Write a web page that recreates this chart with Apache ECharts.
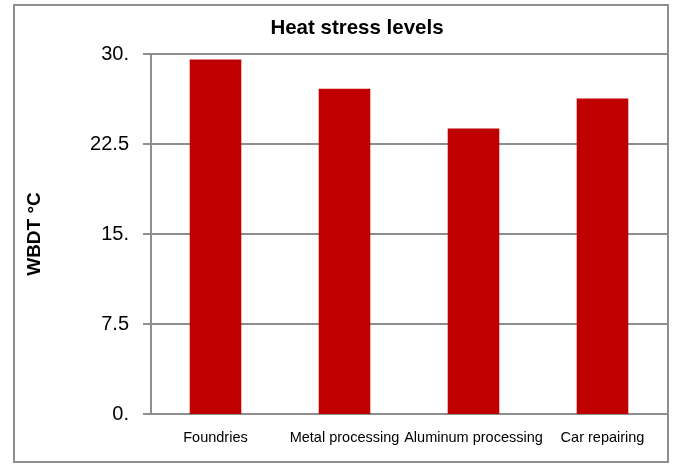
<!DOCTYPE html>
<html><head><meta charset="utf-8">
<script src="https://cdn.jsdelivr.net/npm/echarts@6/dist/echarts.min.js"></script>
<style>html,body{margin:0;padding:0;background:#fff}#c{width:679px;height:464px}</style>
</head><body><div id="c"></div>
<script>
const categories = ["Foundries", "Metal processing", "Aluminum processing", "Car repairing"];
const wbdtValues = [29.55, 27.1, 23.8, 26.3];
const tickValues = [0, 7.5, 15, 22.5, 30];
const tickLabels = ["0.", "7.5", "15.", "22.5", "30."];
const titleText = "Heat stress levels";
const yAxisName = "WBDT °C";

const chart = echarts.init(document.getElementById('c'));
const font = "'Liberation Sans', Arial, sans-serif";
chart.setOption({
  animation: false,
  title: {
    text: titleText, left: 352, top: 13, textAlign: 'center',
    textStyle: { fontFamily: font, fontWeight: 'bold', fontSize: 20.5, color: '#000' }
  },
  graphic: [{
    type: 'rect', z: 100, silent: true,
    shape: { x: 14, y: 5, width: 654, height: 457 },
    style: { fill: 'none', stroke: '#8e8e8e', lineWidth: 2 }
  }],
  grid: { left: 151, right: 12, top: 54, bottom: 50 },
  xAxis: {
    type: 'category', data: categories,
    axisLine: { lineStyle: { color: '#8e8e8e', width: 2 } },
    axisTick: { show: false },
    axisLabel: { fontFamily: font, fontSize: 14.5, color: '#000', margin: 16, interval: 0 }
  },
  yAxis: {
    type: 'value', min: 0, max: 30, interval: 7.5,
    name: yAxisName, nameLocation: 'middle', nameGap: 107, nameRotate: 90,
    nameTextStyle: { fontFamily: font, fontWeight: 'bold', fontSize: 19, color: '#000' },
    axisLine: { show: true, lineStyle: { color: '#8e8e8e', width: 2 } },
    axisTick: { show: true, length: 8, lineStyle: { color: '#8e8e8e', width: 2 } },
    splitLine: { lineStyle: { color: '#8e8e8e', width: 2 } },
    axisLabel: {
      fontFamily: font, fontSize: 20, color: '#000', margin: 22,
      formatter: v => { const i = tickValues.indexOf(v); return i >= 0 ? tickLabels[i] : ''; }
    }
  },
  series: [{
    type: 'bar', data: wbdtValues, barWidth: '40%',
    itemStyle: { color: '#c00000' }
  }]
});
</script></body></html>
